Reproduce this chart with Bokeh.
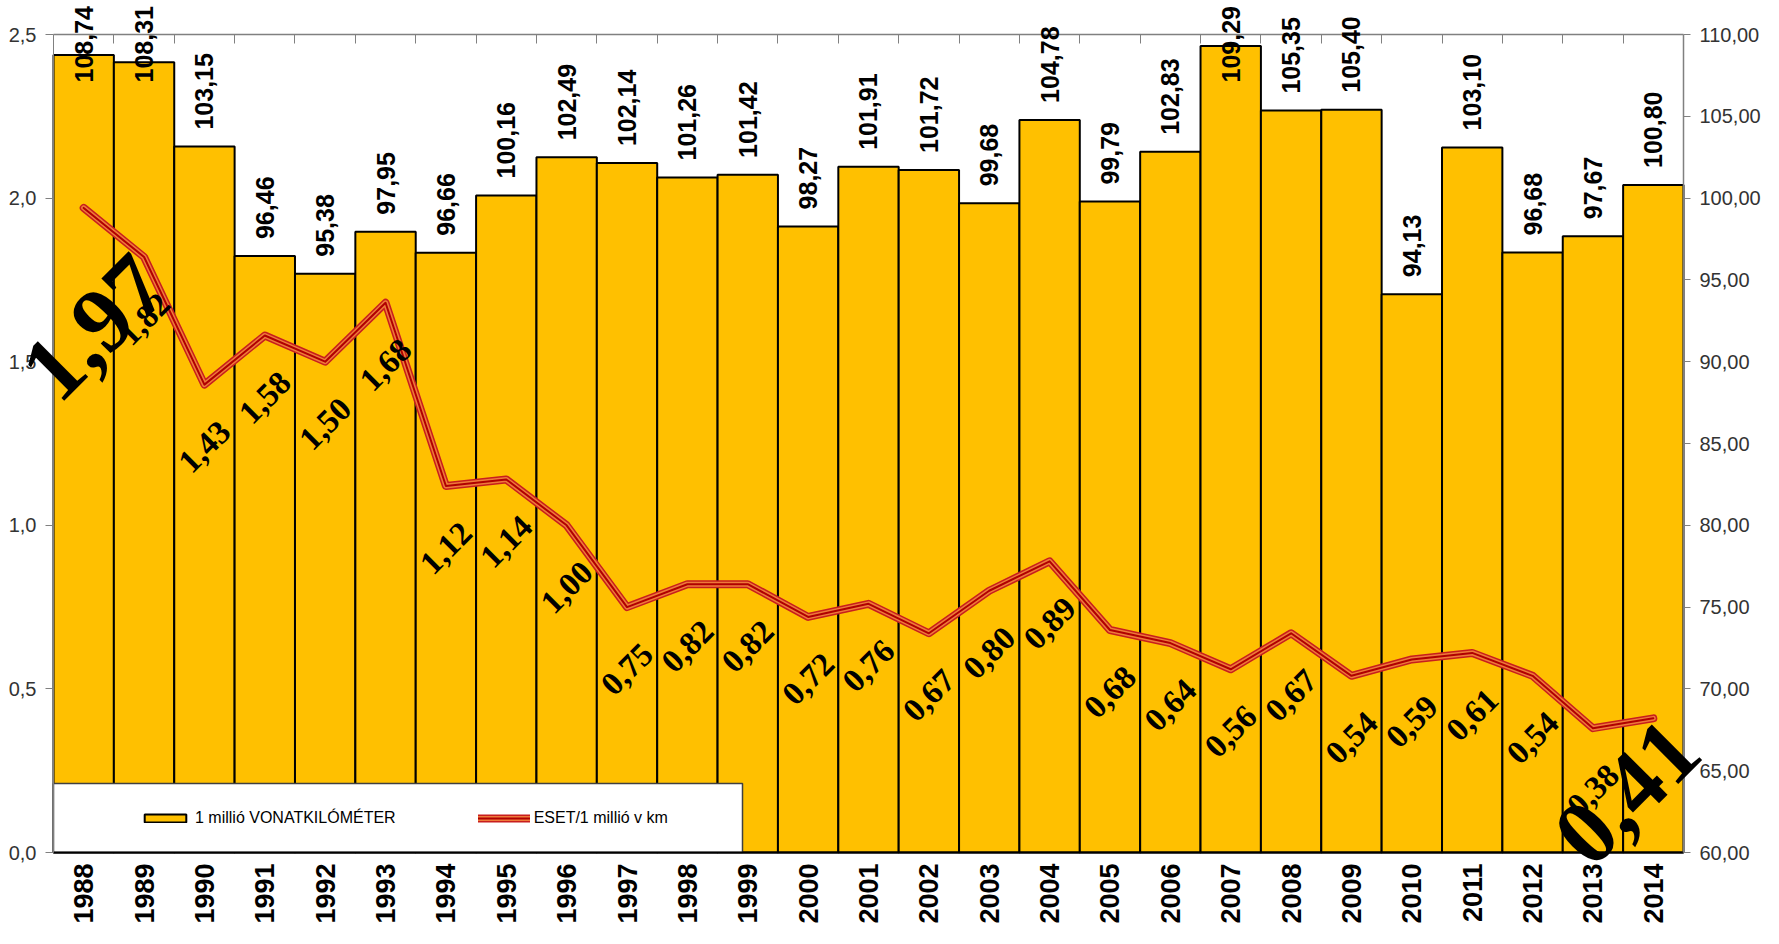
import math
from bokeh.plotting import figure
from bokeh.models import (ColumnDataSource, Range1d, LinearAxis, FixedTicker,
                          CustomJSTickFormatter, LabelSet, Legend, LegendItem)
from bokeh.core.properties import value
from bokeh.embed import file_html
from bokeh.resources import INLINE

# ---------------- data ----------------
years = [str(y) for y in range(1988, 2015)]
train_km = [108.74, 108.31, 103.15, 96.46, 95.38, 97.95, 96.66, 100.16, 102.49,
            102.14, 101.26, 101.42, 98.27, 101.91, 101.72, 99.68, 104.78, 99.79,
            102.83, 109.29, 105.35, 105.40, 94.13, 103.10, 96.68, 97.67, 100.80]
rate = [1.97, 1.82, 1.43, 1.58, 1.50, 1.68, 1.12, 1.14, 1.00, 0.75, 0.82, 0.82,
        0.72, 0.76, 0.67, 0.80, 0.89, 0.68, 0.64, 0.56, 0.67, 0.54, 0.59, 0.61,
        0.54, 0.38, 0.41]
left_ticks = [0.0, 0.5, 1.0, 1.5, 2.0, 2.5]
right_ticks = [60, 65, 70, 75, 80, 85, 90, 95, 100, 105, 110]
series_names = ["1 millió VONATKILÓMÉTER", "ESET/1 millió v km"]

# ---------------- geometry ----------------
W, H = 1763, 928
ML, MR, MT, MB = 53, 80, 34, 76          # chart area inside the canvas
FW, FH = W - ML - MR, H - MT - MB
n = len(years)
LMIN, LMAX = 0.0, 2.5
RMIN, RMAX = 60.0, 110.0
px_x = n / FW                 # x units per pixel
px_l = (LMAX - LMIN) / FH     # left units per pixel
px_r = (RMAX - RMIN) / FH     # right units per pixel

xc = [i + 0.5 for i in range(n)]
fmt = lambda v: f"{v:.2f}".replace(".", ",")

# The frame covers the whole canvas so that overflowing labels are not clipped;
# the axes are pinned to the chart edges with fixed_location and bounds.
p = figure(width=W, height=H,
           x_range=Range1d(-ML * px_x, n + MR * px_x),
           y_range=Range1d(LMIN - MB * px_l, LMAX + MT * px_l),
           output_backend="svg", toolbar_location=None, title=None,
           min_border=0, min_border_left=0, min_border_right=0,
           min_border_top=0, min_border_bottom=0,
           x_axis_location=None, y_axis_location=None)
p.extra_y_ranges = {"right": Range1d(RMIN - MB * px_r, RMAX + MT * px_r)}
p.grid.visible = False
p.outline_line_color = None
p.background_fill_color = "white"
p.border_fill_color = "white"

AX = "#808080"
LBL = "#333333"

# ---------------- bars ----------------
bar_src = ColumnDataSource(dict(x=xc, km=train_km))
bars = p.vbar(x="x", width=1.0, bottom=RMIN, top="km", source=bar_src,
              y_range_name="right", fill_color="#FFC000", line_color="black",
              line_width=2)

# legend panel (white box over the bars)
LEG_W, LEG_H = 689, 69
p.quad(left=[0], right=[LEG_W * px_x], bottom=[LMIN], top=[LMIN + LEG_H * px_l],
       fill_color="white", line_color="#404040", line_width=1.5)

# ---------------- line ----------------
line_src = ColumnDataSource(dict(x=xc, r=rate))
l1 = p.line("x", "r", source=line_src, line_color="#C81E1E", line_width=8,
            line_join="round", line_cap="round")
l2 = p.line("x", "r", source=line_src, line_color="#EE7A3A", line_width=5,
            line_join="round", line_cap="round")
l3 = p.line("x", "r", source=line_src, line_color="#B00000", line_width=2,
            line_join="round", line_cap="round")

# ---------------- axes ----------------
left = LinearAxis(ticker=FixedTicker(ticks=left_ticks), fixed_location=0,
                  bounds=(LMIN, LMAX),
                  formatter=CustomJSTickFormatter(code="return tick.toFixed(1).replace('.', ',');"))
left.axis_line_color = AX
left.major_tick_line_color = AX
left.major_tick_out = 8
left.major_tick_in = 0
left.minor_tick_line_color = None
left.major_label_standoff = 9
left.major_label_text_font = "Liberation Sans"
left.major_label_text_font_size = "20px"
left.major_label_text_color = LBL
p.add_layout(left, "left")

right = LinearAxis(y_range_name="right", ticker=FixedTicker(ticks=right_ticks),
                   fixed_location=n, bounds=(RMIN, RMAX),
                   formatter=CustomJSTickFormatter(code="return tick.toFixed(2).replace('.', ',');"))
right.axis_line_color = AX
right.axis_line_width = 1.5
right.major_tick_line_color = AX
right.major_tick_out = 7
right.major_tick_in = 0
right.minor_tick_line_color = None
right.major_label_standoff = 9
right.major_label_text_font = "Liberation Sans"
right.major_label_text_font_size = "20px"
right.major_label_text_color = LBL
p.add_layout(right, "right")

bottom = LinearAxis(ticker=FixedTicker(ticks=xc), fixed_location=LMIN, bounds=(0, n),
                    formatter=CustomJSTickFormatter(args=dict(years=years),
                                                    code="return years[Math.floor(tick)];"))
bottom.axis_line_color = "black"
bottom.axis_line_width = 2
bottom.major_tick_line_color = None
bottom.major_tick_out = 0
bottom.major_tick_in = 0
bottom.minor_tick_line_color = None
bottom.major_label_orientation = math.pi / 2
bottom.major_label_standoff = 11
bottom.major_label_text_font = "Liberation Sans"
bottom.major_label_text_font_style = "bold"
bottom.major_label_text_font_size = "27px"
bottom.major_label_text_color = "black"
p.add_layout(bottom, "below")

top = LinearAxis(ticker=FixedTicker(ticks=list(range(1, n))), fixed_location=LMAX,
                 bounds=(0, n), formatter=CustomJSTickFormatter(code="return '';"))
top.axis_line_color = AX
top.axis_line_width = 1.5
top.major_tick_line_color = AX
top.major_tick_in = 9
top.major_tick_out = 0
top.minor_tick_line_color = None
top.major_label_text_font_size = "0px"
top.major_label_standoff = 0
p.add_layout(top, "above")

# ---------------- bar value labels ----------------
clamp_top = RMAX - 48 * px_r   # keep label tops inside the picture
bar_lab_y = [min(v + 17 * px_r, clamp_top) for v in train_km]
bl_src = ColumnDataSource(dict(x=xc, y=bar_lab_y, t=[fmt(v) for v in train_km]))
p.add_layout(LabelSet(x="x", y="y", text="t", source=bl_src, y_range_name="right",
                      angle=math.pi / 2, text_align="left", text_baseline="middle",
                      text_font=value("Liberation Sans"), text_font_style="bold",
                      text_font_size="25px", text_color="black"))

# ---------------- line value labels ----------------
mid = list(range(1, n - 1))
ml_src = ColumnDataSource(dict(x=[xc[i] for i in mid],
                               y=[rate[i] - 62 * px_l for i in mid],
                               t=[fmt(rate[i]) for i in mid]))
p.add_layout(LabelSet(x="x", y="y", text="t", source=ml_src,
                      angle=math.pi / 4, text_align="center", text_baseline="middle",
                      text_font=value("Liberation Serif"), text_font_style="bold",
                      text_font_size="33px", text_color="black"))

# first and last values are shown much larger; anchored at the text start
BIG = 92
half = 1.75 * BIG / 2 / math.sqrt(2)      # half text length projected on x / y
big_cx = [xc[0] + 11 * px_x, xc[-1] - 26 * px_x]
big_cy = [rate[0] - 120 * px_l, rate[-1] - 74 * px_l]
big_src = ColumnDataSource(dict(x=[c - half * px_x for c in big_cx],
                                y=[c - half * px_l for c in big_cy],
                                t=[fmt(rate[0]), fmt(rate[-1])]))
p.add_layout(LabelSet(x="x", y="y", text="t", source=big_src,
                      angle=math.pi / 4, text_align="left", text_baseline="middle",
                      text_font=value("Liberation Serif"), text_font_style="bold",
                      text_font_size=f"{BIG}px", text_color="black"))

# ---------------- legend ----------------
legend = Legend(items=[LegendItem(label=series_names[0], renderers=[bars]),
                       LegendItem(label=series_names[1], renderers=[l1, l2, l3])],
                orientation="horizontal", location=(ML + 61, MB), padding=25,
                spacing=82, glyph_width=52, glyph_height=10, label_standoff=4,
                margin=0, border_line_alpha=0, background_fill_alpha=0,
                label_text_font="Liberation Sans", label_text_font_size="16px",
                label_text_color="black")
p.add_layout(legend, "center")

open("out.html", "w").write(file_html(p, INLINE))
